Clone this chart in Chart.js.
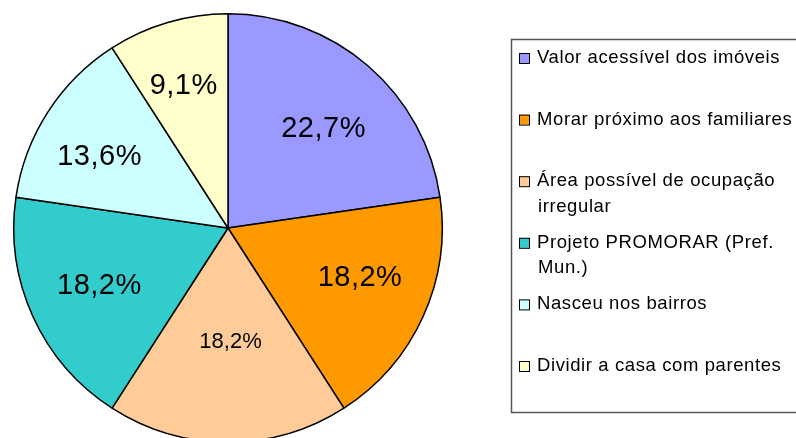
<!DOCTYPE html>
<html>
<head>
<meta charset="utf-8">
<script src="https://cdn.jsdelivr.net/npm/chart.js@4.4.1/dist/chart.umd.min.js"></script>
<style>
  html, body { margin: 0; padding: 0; background: #fff; overflow: hidden; }
  #wrap { position: relative; width: 796px; height: 438px; overflow: hidden; }
  #chart { position: absolute; left: 0; top: 0; }
</style>
</head>
<body>
<div id="wrap"><canvas id="chart" width="796" height="460"></canvas></div>
<script>
const categories = [
  "Valor acessível dos imóveis",
  "Morar próximo aos familiares",
  ["Área possível de ocupação", "irregular"],
  ["Projeto PROMORAR (Pref.", "Mun.)"],
  "Nasceu nos bairros",
  "Dividir a casa com parentes"
];
const percentages = [22.7, 18.2, 18.2, 18.2, 13.6, 9.1];
const valueLabels = ["22,7%", "18,2%", "18,2%", "18,2%", "13,6%", "9,1%"];

const colors = ["#9999FF", "#FF9900", "#FFCC99", "#33CCCC", "#CCFFFF", "#FFFFCC"];
// label placement: fraction of radius, angle nudge (deg) from slice middle, font size
const labelRadius = [0.645, 0.657, 0.526, 0.657, 0.687, 0.70];
const labelTurn = [2.9, -4.2, -1.3, 0.5, -3.5, -0.8];
const labelSize = [29, 29, 22, 29, 29, 29];

const FONT = "'Liberation Sans', Arial, sans-serif";

const sliceLabels = {
  id: "sliceLabels",
  afterDatasetsDraw(chart) {
    const ctx = chart.ctx;
    const arcs = chart.getDatasetMeta(0).data;
    ctx.save();
    ctx.fillStyle = "#000";
    ctx.textAlign = "center";
    ctx.textBaseline = "middle";
    arcs.forEach((arc, i) => {
      const { x, y, startAngle, endAngle, outerRadius } = arc.getProps(
        ["x", "y", "startAngle", "endAngle", "outerRadius"], true);
      const mid = (startAngle + endAngle) / 2 + labelTurn[i] * Math.PI / 180;
      const r = outerRadius * labelRadius[i];
      ctx.font = `${labelSize[i]}px ${FONT}`;
      ctx.letterSpacing = labelSize[i] > 25 ? "0.5px" : "0px";
      ctx.fillText(valueLabels[i], x + Math.cos(mid) * r, y + Math.sin(mid) * r + 1);
    });
    ctx.restore();
  }
};

const boxLegend = {
  id: "boxLegend",
  afterDraw(chart) {
    const ctx = chart.ctx;
    ctx.save();
    ctx.strokeStyle = "#555";
    ctx.lineWidth = 1.5;
    ctx.strokeRect(511.5, 39.5, 320, 373);
    ctx.font = `18.5px ${FONT}`;
    ctx.letterSpacing = "0.6px";
    ctx.textBaseline = "middle";
    ctx.textAlign = "left";
    chart.data.labels.forEach((label, i) => {
      const y = 58 + i * 61.6;
      ctx.fillStyle = colors[i];
      ctx.fillRect(519, y - 5, 10, 10);
      ctx.strokeStyle = "#000";
      ctx.lineWidth = 1;
      ctx.strokeRect(519.5, y - 4.5, 10, 10);
      ctx.fillStyle = "#000";
      const lines = Array.isArray(label) ? label : [label];
      lines.forEach((line, j) => {
        ctx.fillText(line, j === 0 ? 537 : 538, y + j * 25.5);
      });
    });
    ctx.restore();
  }
};

new Chart(document.getElementById("chart").getContext("2d"), {
  type: "pie",
  data: {
    labels: categories,
    datasets: [
      {
        data: percentages,
        backgroundColor: colors,
        borderColor: "#000",
        borderWidth: 1.5
      }
    ]
  },
  options: {
    responsive: false,
    animation: false,
    layout: { padding: { left: 13, top: 13, right: 353, bottom: 17 } },
    plugins: {
      legend: { display: false },
      tooltip: { enabled: false }
    }
  },
  plugins: [sliceLabels, boxLegend]
});
</script>
</body>
</html>
